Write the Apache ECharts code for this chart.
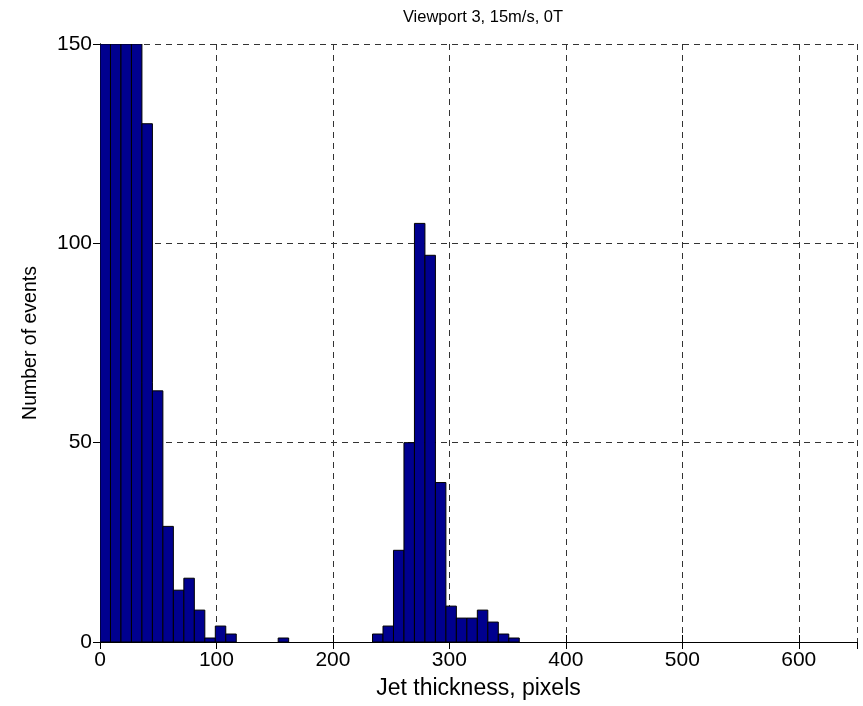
<!DOCTYPE html>
<html>
<head>
<meta charset="utf-8">
<script src="https://cdn.jsdelivr.net/npm/echarts@6/dist/echarts.min.js"></script>
<style>
  html, body { margin: 0; padding: 0; background: #fff; }
  #chart { width: 863px; height: 706px; }
</style>
</head>
<body>
<div id="chart"></div>
<script>
// histogram bins (left edge, pixels) and counts
const binWidth = 9;
const binLeft = [0, 9, 18, 27, 36, 45, 54, 63, 72, 81, 90, 99, 108, 153,
  234, 243, 252, 261, 270, 279, 288, 297, 306, 315, 324, 333, 342, 351];
const counts = [150, 150, 150, 150, 130, 63, 29, 13, 16, 8, 1, 4, 2, 1,
  2, 4, 23, 50, 105, 97, 40, 9, 6, 6, 8, 5, 2, 1];
const xTicks = [0, 100, 200, 300, 400, 500, 600];
const yTicks = [0, 50, 100, 150];

const font = 'Liberation Sans, Arial, sans-serif';
let chart = echarts.init(document.getElementById('chart'));

let axisCommon = {
  axisLine: { show: true, lineStyle: { color: '#000', width: 1 } },
  axisTick: { show: true, inside: true, length: 7, lineStyle: { color: '#000' } }
};

let option = {
  animation: false,
  title: {
    text: 'Viewport 3, 15m/s, 0T',
    left: 478, top: 4, textAlign: 'center',
    textStyle: { fontFamily: font, fontSize: 16.5, fontWeight: 'normal', color: '#000' }
  },
  grid: { left: 100, right: 6, top: 44, bottom: 64 },
  xAxis: [{
    type: 'value', min: 0, max: 650, interval: 100,
    ...axisCommon,
    axisLabel: { show: true, showMaxLabel: false, margin: 8, color: '#000', fontFamily: font, fontSize: 21 },
    splitLine: { show: true, lineStyle: { color: '#333', type: [6, 5], width: 1 } },
    name: 'Jet thickness, pixels', nameLocation: 'middle', nameGap: 35,
    nameTextStyle: { color: '#000', fontFamily: font, fontSize: 23 }
  }, {
    type: 'value', min: 0, max: 650, interval: 100, position: 'top',
    ...axisCommon,
    axisLabel: { show: false },
    splitLine: { show: false }
  }],
  yAxis: [{
    type: 'value', min: 0, max: 150, interval: 50,
    ...axisCommon,
    axisLabel: { show: true, margin: 8, color: '#000', fontFamily: font, fontSize: 21 },
    splitLine: { show: true, lineStyle: { color: '#333', type: [6, 5], width: 1 } },
    name: 'Number of events', nameLocation: 'middle', nameGap: 59,
    nameTextStyle: { color: '#000', fontFamily: font, fontSize: 19.5 }
  }, {
    type: 'value', min: 0, max: 150, interval: 50, position: 'right',
    ...axisCommon,
    axisLabel: { show: false },
    splitLine: { show: false }
  }],
  series: [{
    type: 'custom',
    clip: true,
    data: binLeft.map((x, i) => [x, counts[i]]),
    renderItem: function (params, api) {
      let x0 = api.value(0);
      let c = api.value(1);
      let p0 = api.coord([x0, c]);
      let p1 = api.coord([x0 + binWidth, 0]);
      let rect = echarts.graphic.clipRectByRect({
        x: p0[0], y: p0[1], width: p1[0] - p0[0], height: p1[1] - p0[1]
      }, {
        x: params.coordSys.x, y: params.coordSys.y,
        width: params.coordSys.width, height: params.coordSys.height
      });
      return rect && {
        type: 'rect',
        shape: rect,
        style: { fill: '#00008f', stroke: '#000', lineWidth: 1 }
      };
    }
  }]
};

chart.setOption(option);
</script>
</body>
</html>
